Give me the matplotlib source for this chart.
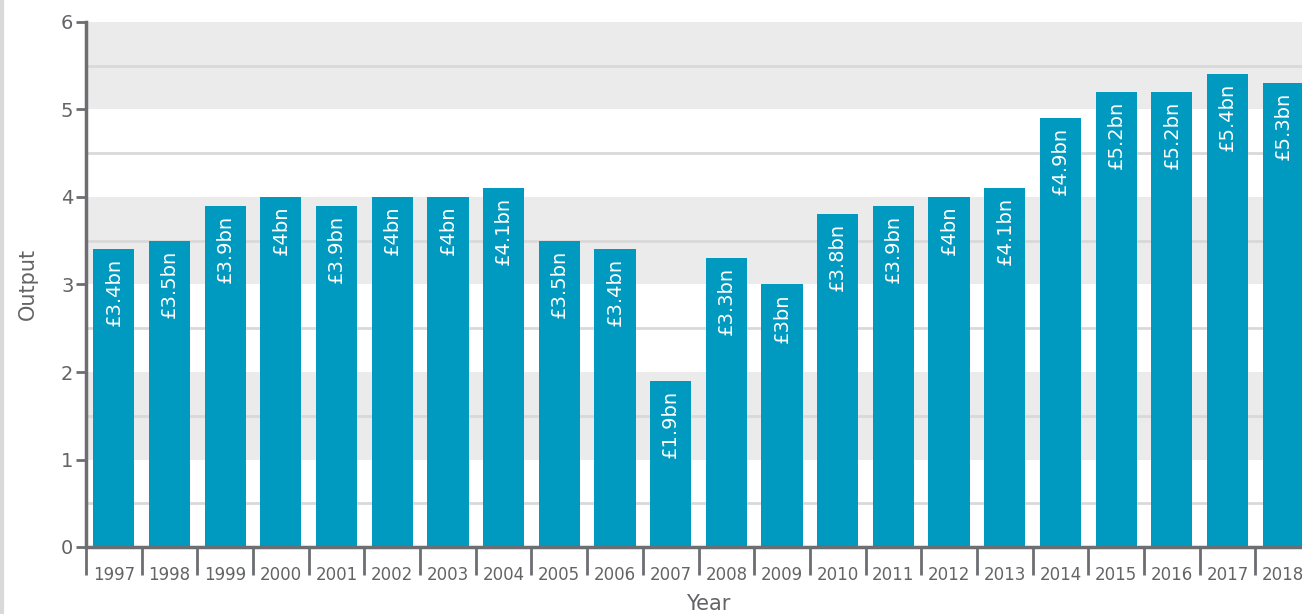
import matplotlib
matplotlib.use("Agg")
from matplotlib import pyplot as plt
import numpy as np

# 年ごとの出力データ
years = [str(y) for y in range(1997, 2019)]
output = [3.4, 3.5, 3.9, 4.0, 3.9, 4.0, 4.0, 4.1, 3.5, 3.4, 1.9,
          3.3, 3.0, 3.8, 3.9, 4.0, 4.1, 4.9, 5.2, 5.2, 5.4, 5.3]
labels = ["£3.4bn", "£3.5bn", "£3.9bn", "£4bn", "£3.9bn", "£4bn", "£4bn",
          "£4.1bn", "£3.5bn", "£3.4bn", "£1.9bn", "£3.3bn", "£3bn", "£3.8bn",
          "£3.9bn", "£4bn", "£4.1bn", "£4.9bn", "£5.2bn", "£5.2bn", "£5.4bn",
          "£5.3bn"]

plt.rcParams['font.family'] = ['DejaVu Sans']
axis_col = "#6d6e71"
text_col = "#636466"
bar_col = "#0099bf"

W, H = 1302, 614
fig = plt.figure(figsize=(W / 100, H / 100), dpi=100)
x0, x1 = 86, 1311
y0, y1 = 547, 22
ax = fig.add_axes([x0 / W, (H - y0) / H, (x1 - x0) / W, (y0 - y1) / H])

# 背景の帯
for lo in [1, 3, 5]:
    ax.axhspan(lo, lo + 1, color="#ebebeb", zorder=0, lw=0)
for g in np.arange(0.5, 6, 1.0):
    ax.axhline(g, color="#d9d9d9", lw=2, zorder=1)

x = np.arange(len(years))
ax.bar(x, output, width=0.74, color=bar_col, zorder=2)
for i in range(len(x)):
    ax.text(x[i], output[i] - 0.1, labels[i], rotation=90, ha="center", va="top",
            color="white", fontsize=14, zorder=3)

ax.set_xlim(-0.5, len(years) - 0.5)
ax.set_ylim(0, 6)
ax.set_yticks(range(7))
ax.set_xticks(x)
ax.set_xticklabels(years)
ax.set_xticks(np.arange(-0.5, len(years), 1), minor=True)
ax.tick_params(axis="x", which="major", length=0, pad=14, labelsize=12, colors=text_col)
ax.tick_params(axis="x", which="minor", length=20, width=2, color=axis_col, direction="out")
ax.tick_params(axis="y", length=7, width=2, color=axis_col, labelsize=14, labelcolor=text_col, pad=2)

for s in ["top", "right"]:
    ax.spines[s].set_visible(False)
for s in ["left", "bottom"]:
    ax.spines[s].set_color(axis_col)
    ax.spines[s].set_linewidth(2.5)

fig.text(28 / W, 1 - 284 / H, "Output", rotation=90, ha="center", va="center",
         fontsize=15, color=text_col)
fig.text(708 / W, 1 - 604 / H, "Year", ha="center", va="center",
         fontsize=15, color=text_col)

# 左端の薄い線
fig.add_artist(plt.Line2D([1.5 / W, 1.5 / W], [0, 1], color="#d9d9d9", lw=3))

plt.savefig("out.png", dpi=100)
